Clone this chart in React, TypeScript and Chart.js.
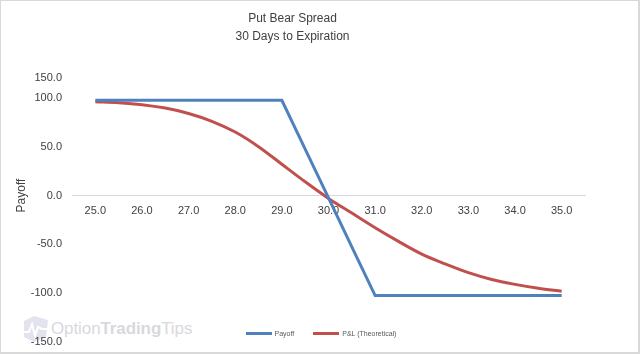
import { useEffect, useRef } from 'react';
import { Chart, registerables } from 'chart.js';

Chart.register(...registerables);

const chartTitle = ['Put Bear Spread', '30 Days to Expiration'];
const yAxisTitle = 'Payoff';
const seriesNames = ['Payoff', 'P&L (Theoretical)'];
const seriesColors = ['#4f81bd', '#c0504d'];
const watermarkParts = ['Option', 'Trading', 'Tips'];

const spotPrices = [25, 25.5, 26, 26.5, 27, 27.5, 28, 28.5, 29, 29.5, 30, 30.5, 31, 31.5, 32, 32.5, 33, 33.5, 34, 34.5, 35];
const payoffValues = [97.5, 97.5, 97.5, 97.5, 97.5, 97.5, 97.5, 97.5, 97.5, 47.5, -2.5, -52.5, -102.5, -102.5, -102.5, -102.5, -102.5, -102.5, -102.5, -102.5, -102.5];
const pnlValues = [96, 95, 93, 89.5, 84, 76, 65, 50, 32, 14, -3, -18, -33, -47, -60, -70, -79, -86, -91, -95, -98];

const xTickValues = [25, 26, 27, 28, 29, 30, 31, 32, 33, 34, 35];
const yTickValues = [-150, -100, -50, 0, 50, 100, 150];

const FONT = "'Liberation Sans', Arial, sans-serif";
const TEXT = '#404040';

const topLabelPlugin = {
  id: 'topLabel',
  afterDraw(chart: any) {
    const y = chart.scales.y;
    const top = yTickValues[yTickValues.length - 1];
    const ctx = chart.ctx;
    ctx.save();
    ctx.font = `11px ${FONT}`;
    ctx.fillStyle = TEXT;
    ctx.textAlign = 'right';
    ctx.textBaseline = 'middle';
    ctx.fillText(top.toFixed(1), y.right - 10, y.getPixelForValue(top) + 29);
    ctx.restore();
  },
};

export default function App() {
  const ref = useRef<HTMLCanvasElement | null>(null);

  useEffect(() => {
    if (!ref.current) return;
    const chart = new Chart(ref.current, {
      type: 'line',
      data: {
        datasets: [
          {
            label: seriesNames[0],
            data: spotPrices.map((x, i) => ({ x, y: payoffValues[i] })),
            borderColor: seriesColors[0],
            backgroundColor: seriesColors[0],
            borderWidth: 3,
            pointRadius: 0,
            tension: 0,
          },
          {
            label: seriesNames[1],
            data: spotPrices.map((x, i) => ({ x, y: pnlValues[i] })),
            borderColor: seriesColors[1],
            backgroundColor: seriesColors[1],
            borderWidth: 3,
            pointRadius: 0,
            cubicInterpolationMode: 'monotone',
          },
        ],
      },
      options: {
        animation: false,
        responsive: false,
        maintainAspectRatio: false,
        layout: { padding: { left: 0, right: 55, top: 0, bottom: 13 } },
        plugins: {
          legend: { display: false },
          tooltip: { enabled: false },
          title: {
            display: true,
            text: chartTitle,
            color: TEXT,
            font: { family: FONT, size: 12, weight: 'normal', lineHeight: 1.5 },
            padding: { top: 9, bottom: 3 },
          },
        },
        scales: {
          x: {
            type: 'linear',
            position: { y: 0 },
            min: 24.5,
            max: 35.5,
            afterBuildTicks: (s: any) => {
              s.ticks = xTickValues.map((v) => ({ value: v }));
            },
            grid: { display: false, drawTicks: false },
            border: { display: true, color: '#d9d9d9', width: 1 },
            ticks: {
              color: TEXT,
              font: { family: FONT, size: 11 },
              padding: 9,
              maxRotation: 0,
              autoSkip: false,
              callback: (v: any) => Number(v).toFixed(1),
            },
          },
          y: {
            type: 'linear',
            min: yTickValues[0],
            max: yTickValues[yTickValues.length - 1],
            afterBuildTicks: (s: any) => {
              s.ticks = yTickValues.map((v) => ({ value: v }));
            },
            afterFit: (s: any) => {
              s.width = 72;
              s.paddingTop = 0;
              s.paddingBottom = 0;
            },
            grid: { display: false, drawTicks: false },
            border: { display: false },
            ticks: {
              color: TEXT,
              font: { family: FONT, size: 11 },
              padding: 10,
              callback: (v: any) => (v === yTickValues[yTickValues.length - 1] ? '' : Number(v).toFixed(1)),
            },
            title: {
              display: true,
              text: yAxisTitle,
              color: TEXT,
              font: { family: FONT, size: 12 },
              padding: { top: 14, bottom: 0 },
            },
          },
        },
      },
      plugins: [topLabelPlugin],
    } as any);
    return () => chart.destroy();
  }, []);

  return (
    <div
      style={{
        position: 'absolute',
        left: 0,
        top: 0,
        width: 640,
        height: 354,
        boxSizing: 'border-box',
        border: '1px solid #d9d9d9',
        borderRightWidth: 2,
        borderBottomWidth: 2,
        background: '#fff',
        overflow: 'hidden',
        fontFamily: FONT,
      }}
    >
      <div style={{ position: 'absolute', left: 19, top: 314, display: 'flex', alignItems: 'center' }}>
        <svg width="30" height="28" viewBox="0 0 30 28">
          <polygon points="4,6 14,1 28,5 26,22 14,27 4,22" fill="#e3e3ee" />
          <polyline points="4,17 9,17 12,9 15,21 18,12 22,14 27,14" fill="none" stroke="#ffffff" strokeWidth="2" />
        </svg>
        <span style={{ fontSize: 17, color: '#d8d8de', marginLeft: 1, letterSpacing: -0.1 }}>
          <span style={{ fontWeight: 'normal' }}>{watermarkParts[0]}</span>
          <span style={{ fontWeight: 'bold' }}>{watermarkParts[1]}</span>
          <span style={{ fontWeight: 'normal' }}>{watermarkParts[2]}</span>
        </span>
      </div>
      <canvas ref={ref} width={640} height={354} style={{ position: 'absolute', left: -1, top: 0, width: 640, height: 354 }} />
      <div
        style={{
          position: 'absolute',
          left: 0,
          width: 640,
          top: 329,
          display: 'flex',
          justifyContent: 'center',
          alignItems: 'center',
          fontSize: 7,
          color: '#595959',
        }}
      >
        {seriesNames.map((name, i) => (
          <div key={name} style={{ display: 'flex', alignItems: 'center', marginLeft: i === 0 ? 0 : 19 }}>
            <div style={{ width: 26, height: 3, background: seriesColors[i], marginRight: 3 }} />
            <span>{name}</span>
          </div>
        ))}
      </div>
    </div>
  );
}
